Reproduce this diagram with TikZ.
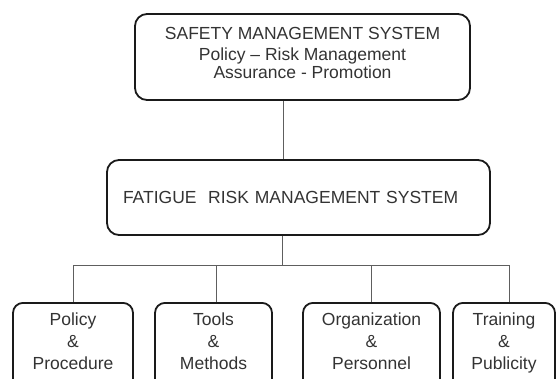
\documentclass[tikz,border=0pt]{standalone}
\usepackage{fontspec}
\setmainfont{Liberation Sans}
\definecolor{boxline}{HTML}{1A1A1A}
\definecolor{linkgray}{HTML}{5E5E5E}
\definecolor{txtgray}{HTML}{333333}
\tikzset{
  sysbox/.style = {draw = boxline, line width = 1.8pt, rounded corners = 12pt, text = txtgray, align = center},
  leaf/.style = {draw = boxline, line width = 1.8pt, rounded corners = 10pt, text = txtgray, align = center,
                 anchor = north, inner ysep = 9.5pt, text depth = 80pt,
                 font = \fontsize{17.5}{22}\selectfont},
  link/.style = {draw = linkgray, line width = 0.9pt}
}
\begin{document}
\begin{tikzpicture}[x = 1pt, y = -1pt]
\useasboundingbox (0,0) rectangle (556,378);
\clip (0,0) rectangle (556,378);
\node[sysbox, minimum width = 335pt, minimum height = 86pt] (sms) at (302.5,57) {};
\node[text = txtgray, align = center, font = \fontsize{17.5}{18}\selectfont] (smstext) at (302.5,53)
  {SAFETY MANAGEMENT SYSTEM\\[3pt]Policy -- Risk Management\\Assurance - Promotion};
\node[sysbox, minimum height = 75pt, inner xsep = 16pt, text width = 351pt, align = left,
      font = \fontsize{17.5}{18}\selectfont] (frms) at (298.5,197.5)
  {FATIGUE\ \ RISK MANAGEMENT SYSTEM};
\coordinate (bus) at (0,265);
\foreach \nm/\cx/\bw/\txt in {policy/73/120/{Policy\\\&\\Procedure},
                              tools/213.5/117/{Tools\\\&\\Methods},
                              org/371.5/137/{Organization\\\&\\Personnel},
                              train/504/102/{Training\\\&\\Publicity}}
  \node[leaf, minimum width = \bw pt] (\nm) at (\cx,302) {\txt};
% connectors
\draw[link] ([xshift=-19.5pt]sms.south) -- ([xshift=-19.5pt]sms.south |- frms.north);
\draw[link] ([xshift=-16pt]frms.south) -- ([xshift=-16pt]frms.south |- bus);
\foreach \nm/\dx in {policy/0, tools/2.5, org/0, train/5}
  \draw[link] ([xshift=\dx pt]\nm.north) -- ([xshift=\dx pt]\nm.north |- bus);
\draw[link] (policy.north |- bus) -- ([xshift=5pt]train.north |- bus);
\end{tikzpicture}
\end{document}
